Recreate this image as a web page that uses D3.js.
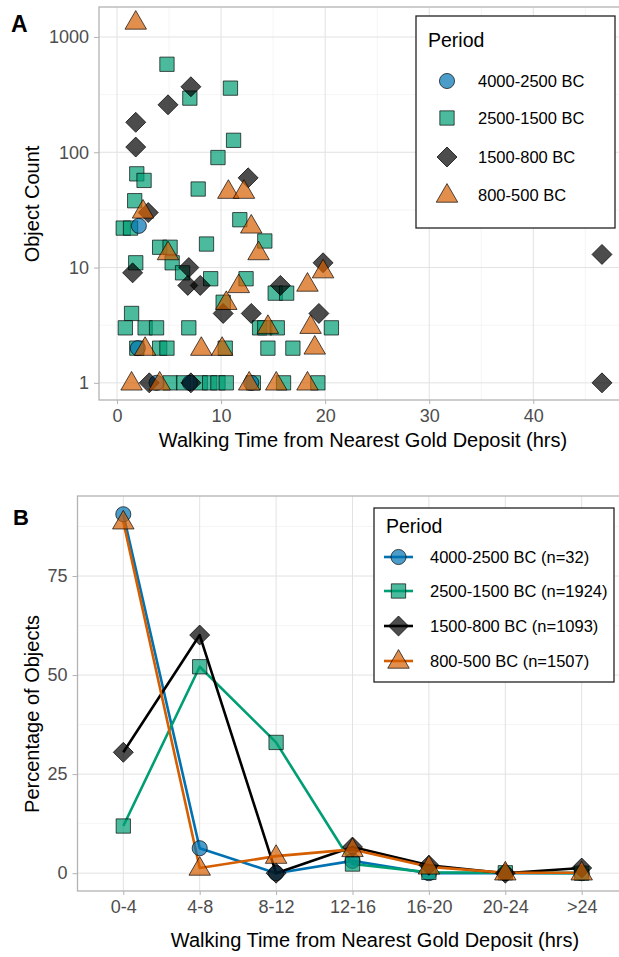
<!DOCTYPE html>
<html>
<head>
<meta charset="utf-8">
<script src="https://cdn.jsdelivr.net/npm/d3@7"></script>
<style>
  body { margin: 0; background: #fff; }
  svg { display: block; font-family: "Liberation Sans", Arial, sans-serif; }
</style>
</head>
<body>
<svg id="chart" width="619" height="957"></svg>
<script>
// periods / legend
var periods = ["4000-2500 BC", "2500-1500 BC", "1500-800 BC", "800-500 BC"];
var periodN = [32, 1924, 1093, 1507];
var periodColor = ["#0072B2", "#009E73", "#000000", "#D55E00"];
var periodShape = ["circle", "square", "diamond", "triangle"];

// panel A : [walking hrs, object count]
var sitesEarly = [[2.1, 23], [2.0, 2], [3.8, 1], [7.0, 1], [12.9, 1]];
var sitesMid = [[4.8, 580], [7.0, 295], [10.9, 360], [11.2, 127], [9.7, 90], [1.9, 65], [2.6, 57],
  [7.8, 48], [1.7, 38], [0.6, 22], [1.3, 22], [11.8, 26], [8.6, 16], [4.1, 15], [5.1, 15],
  [5.3, 11], [14.2, 17], [1.8, 11], [6.3, 9], [9.0, 8], [12.4, 8], [10.2, 5], [1.4, 4],
  [0.8, 3], [2.7, 3], [3.8, 3], [6.9, 3], [13.7, 3], [14.2, 3], [15.4, 3], [20.6, 3],
  [1.9, 2], [4.1, 2], [4.8, 2], [10.4, 2], [14.5, 2], [16.9, 2], [15.2, 6], [16.3, 6],
  [5.1, 1], [6.4, 1], [8.0, 1], [8.9, 1], [9.7, 1], [10.5, 1], [13.1, 1], [16.0, 1], [19.3, 1]];
var sitesLate = [[7.1, 370], [4.9, 258], [1.8, 182], [1.8, 111], [12.6, 60], [3.0, 30], [1.5, 9],
  [6.9, 10], [6.8, 7], [8.0, 7], [10.2, 4], [12.9, 4], [19.8, 11], [15.7, 7], [19.4, 4],
  [3.1, 1], [7.1, 1], [46.6, 13], [46.6, 1]];
var sitesIron = [[1.8, 1350], [10.7, 46], [12.2, 46], [2.5, 31], [12.9, 23], [4.9, 13.5], [13.6, 13.5],
  [11.7, 7], [10.5, 5], [19.8, 9.4], [18.3, 7.2], [14.5, 3.1], [18.6, 3.1], [2.7, 2], [8.1, 2],
  [10.1, 2], [19.0, 2.05], [1.4, 1], [4.1, 1], [12.7, 1], [15.3, 1], [18.3, 1]];
var sitesByPeriod = [sitesEarly, sitesMid, sitesLate, sitesIron];

// panel B : percentage of objects per walking-time bin
var bins = ["0-4", "4-8", "8-12", "12-16", "16-20", "20-24", ">24"];
var pctEarly = [90.6, 6.3, 0, 3.1, 0, 0, 0];
var pctMid = [11.9, 52.1, 33.0, 2.3, 0.2, 0.1, 0];
var pctLate = [30.5, 60.1, 0, 6.6, 2.0, 0, 1.3];
var pctIron = [88.7, 1.3, 4.3, 6.0, 1.6, 0.1, 0.1];
var pctByPeriod = [pctEarly, pctMid, pctLate, pctIron];

var svg = d3.select("#chart");

var gridMajor = "#e2e2e2", gridMinor = "#f0f0f0", borderCol = "#b3b3b3", tickText = "#4d4d4d";

function symbolPath(shape) {
  if (shape == "circle") return d3.symbol().type(d3.symbolCircle).size(180)();
  if (shape == "square") return d3.symbol().type(d3.symbolSquare).size(205)();
  if (shape == "diamond") return d3.symbol().type(d3.symbolSquare).size(200)();
  return d3.symbol().type(d3.symbolTriangle).size(200)();
}

function drawMarker(g, shape, color, x, y) {
  var p = g.append("path")
    .attr("d", symbolPath(shape))
    .attr("fill", color)
    .attr("fill-opacity", 0.7)
    .attr("stroke", "#000")
    .attr("stroke-opacity", 0.75)
    .attr("stroke-width", 0.9);
  var t = "translate(" + x + "," + y + ")";
  if (shape == "diamond") t += " rotate(45)";
  if (shape == "triangle") t += " translate(0,1)";
  p.attr("transform", t);
  return p;
}

// ---------------- PANEL A ----------------
var A = { left: 99, right: 628, top: 7, bottom: 400 };
var xA = d3.scaleLinear().domain([-1.73, 49.1]).range([A.left, A.right]);
var yA = d3.scaleLog().domain([0.71, 1820]).range([A.bottom, A.top]);

var gA = svg.append("g");

// grid
[5, 15, 25, 35, 45].forEach(function(v) {
  gA.append("line").attr("x1", xA(v)).attr("x2", xA(v)).attr("y1", A.top).attr("y2", A.bottom)
    .attr("stroke", gridMinor).attr("stroke-width", 0.7);
});
[Math.sqrt(10), Math.sqrt(1000), Math.sqrt(100000)].forEach(function(v) {
  gA.append("line").attr("x1", A.left).attr("x2", A.right).attr("y1", yA(v)).attr("y2", yA(v))
    .attr("stroke", gridMinor).attr("stroke-width", 0.7);
});
var xTicksA = [0, 10, 20, 30, 40];
var yTicksA = [1, 10, 100, 1000];
xTicksA.forEach(function(v) {
  gA.append("line").attr("x1", xA(v)).attr("x2", xA(v)).attr("y1", A.top).attr("y2", A.bottom)
    .attr("stroke", gridMajor).attr("stroke-width", 1);
});
yTicksA.forEach(function(v) {
  gA.append("line").attr("x1", A.left).attr("x2", A.right).attr("y1", yA(v)).attr("y2", yA(v))
    .attr("stroke", gridMajor).attr("stroke-width", 1);
});

// points
var orderA = [1, 0, 2, 3];
orderA.forEach(function(k) {
  sitesByPeriod[k].forEach(function(d) {
    drawMarker(gA, periodShape[k], periodColor[k], xA(d[0]), yA(d[1]));
  });
});

gA.append("rect").attr("x", A.left).attr("y", A.top).attr("width", A.right - A.left).attr("height", A.bottom - A.top)
  .attr("fill", "none").attr("stroke", borderCol).attr("stroke-width", 1.3);

// axes
var axAx = gA.append("g").attr("transform", "translate(0," + A.bottom + ")")
  .call(d3.axisBottom(xA).tickValues(xTicksA).tickSize(4).tickPadding(5).tickFormat(d3.format("d")));
var axAy = gA.append("g").attr("transform", "translate(" + A.left + ",0)")
  .call(d3.axisLeft(yA).tickValues(yTicksA).tickSize(5).tickPadding(5).tickFormat(d3.format("d")));
[axAx, axAy].forEach(function(ax) {
  ax.select(".domain").remove();
  ax.selectAll("line").attr("stroke", borderCol);
  ax.selectAll("text").attr("fill", tickText).style("font-size", "18px");
});

gA.append("text").attr("x", 363).attr("y", 447).attr("text-anchor", "middle")
  .style("font-size", "20px").text("Walking Time from Nearest Gold Deposit (hrs)");
gA.append("text").attr("transform", "translate(39,204) rotate(-90)").attr("text-anchor", "middle")
  .style("font-size", "20px").text("Object Count");
gA.append("text").attr("x", 11).attr("y", 32).style("font-size", "23px").style("font-weight", "bold").text("A");

// legend A
var legA = gA.append("g");
legA.append("rect").attr("x", 416).attr("y", 16).attr("width", 199).attr("height", 212)
  .attr("fill", "#fff").attr("stroke", "#222").attr("stroke-width", 1.3);
legA.append("text").attr("x", 428).attr("y", 47).style("font-size", "19.5px").text("Period");
var legAy = [81, 118, 157, 195];
periods.forEach(function(p, i) {
  drawMarker(legA, periodShape[i], periodColor[i], 447, legAy[i]);
  legA.append("text").attr("x", 478).attr("y", legAy[i]).attr("dy", "0.36em")
    .style("font-size", "16.5px").text(p);
});

// ---------------- PANEL B ----------------
var B = { left: 77.5, right: 628, top: 496, bottom: 891 };
var xB = d3.scalePoint().domain(bins).range([123.3, 581.7]);
var yB = d3.scaleLinear().domain([-4.5, 95.2]).range([B.bottom, B.top]);

var gB = svg.append("g");
[12.5, 37.5, 62.5, 87.5].forEach(function(v) {
  gB.append("line").attr("x1", B.left).attr("x2", B.right).attr("y1", yB(v)).attr("y2", yB(v))
    .attr("stroke", gridMinor).attr("stroke-width", 0.7);
});
var yTicksB = [0, 25, 50, 75];
yTicksB.forEach(function(v) {
  gB.append("line").attr("x1", B.left).attr("x2", B.right).attr("y1", yB(v)).attr("y2", yB(v))
    .attr("stroke", gridMajor).attr("stroke-width", 1);
});
bins.forEach(function(c) {
  gB.append("line").attr("x1", xB(c)).attr("x2", xB(c)).attr("y1", B.top).attr("y2", B.bottom)
    .attr("stroke", gridMajor).attr("stroke-width", 1);
});

var line = d3.line().x(function(d, i) { return xB(bins[i]); }).y(function(d) { return yB(d); });
pctByPeriod.forEach(function(s, k) {
  gB.append("path").datum(s).attr("d", line).attr("fill", "none")
    .attr("stroke", periodColor[k]).attr("stroke-width", 2.6).attr("stroke-linejoin", "round");
});
pctByPeriod.forEach(function(s, k) {
  s.forEach(function(v, i) {
    drawMarker(gB, periodShape[k], periodColor[k], xB(bins[i]), yB(v));
  });
});

gB.append("rect").attr("x", B.left).attr("y", B.top).attr("width", B.right - B.left).attr("height", B.bottom - B.top)
  .attr("fill", "none").attr("stroke", borderCol).attr("stroke-width", 1.3);

var axBx = gB.append("g").attr("transform", "translate(0," + B.bottom + ")")
  .call(d3.axisBottom(xB).tickSize(4).tickPadding(5));
var axBy = gB.append("g").attr("transform", "translate(" + B.left + ",0)")
  .call(d3.axisLeft(yB).tickValues(yTicksB).tickSize(5).tickPadding(5));
[axBx, axBy].forEach(function(ax) {
  ax.select(".domain").remove();
  ax.selectAll("line").attr("stroke", borderCol);
  ax.selectAll("text").attr("fill", tickText).style("font-size", "18px");
});

gB.append("text").attr("x", 375).attr("y", 947).attr("text-anchor", "middle")
  .style("font-size", "20px").text("Walking Time from Nearest Gold Deposit (hrs)");
gB.append("text").attr("transform", "translate(39,714) rotate(-90)").attr("text-anchor", "middle")
  .style("font-size", "20px").text("Percentage of Objects");
gB.append("text").attr("x", 13).attr("y", 525).style("font-size", "22px").style("font-weight", "bold").text("B");

// legend B
var legB = gB.append("g");
legB.append("rect").attr("x", 374).attr("y", 508).attr("width", 240).attr("height", 174)
  .attr("fill", "#fff").attr("stroke", "#222").attr("stroke-width", 1.3);
legB.append("text").attr("x", 386).attr("y", 533).style("font-size", "19.5px").text("Period");
var legBy = [557, 591, 626, 661];
periods.forEach(function(p, i) {
  legB.append("line").attr("x1", 384).attr("x2", 413).attr("y1", legBy[i]).attr("y2", legBy[i])
    .attr("stroke", periodColor[i]).attr("stroke-width", 2.6);
  drawMarker(legB, periodShape[i], periodColor[i], 398.5, legBy[i]);
  legB.append("text").attr("x", 430).attr("y", legBy[i]).attr("dy", "0.36em")
    .style("font-size", "16.5px").text(p + " (n=" + periodN[i] + ")");
});
</script>
</body>
</html>
